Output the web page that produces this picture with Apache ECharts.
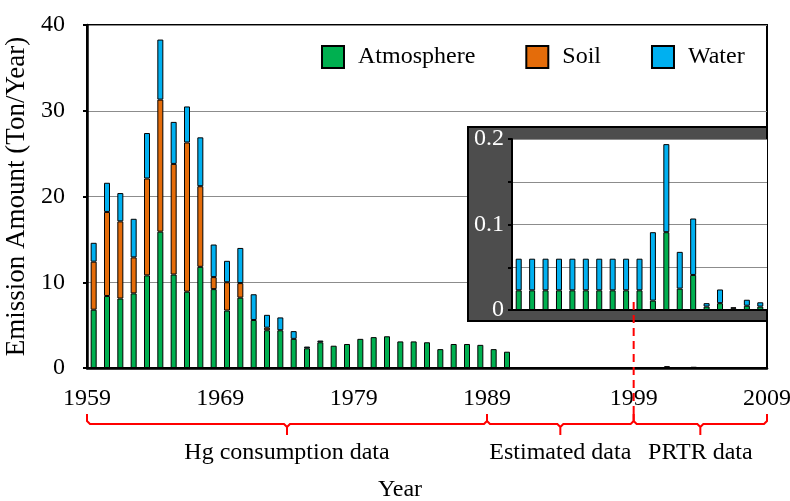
<!DOCTYPE html>
<html>
<head>
<meta charset="utf-8">
<title>Hg emission</title>
<script src="https://cdn.jsdelivr.net/npm/echarts@6/dist/echarts.min.js"></script>
</head>
<body style="margin:0">
<div id="main" style="width:790px;height:501px;"></div>
<script>
// data (Ton/Year)
const years = ['1959','1960','1961','1962','1963','1964','1965','1966','1967','1968',
  '1969','1970','1971','1972','1973','1974','1975','1976','1977','1978',
  '1979','1980','1981','1982','1983','1984','1985','1986','1987','1988',
  '1989','1990','1991','1992','1993','1994','1995','1996','1997','1998',
  '1999','2000','2001','2002','2003','2004','2005','2006','2007','2008','2009'];
const atmosphere = [6.8, 8.4, 8.1, 8.7, 10.8, 15.9, 10.9, 8.9, 11.8, 9.2,
  6.7, 8.2, 5.6, 4.4, 4.4, 3.4, 2.3, 3.0, 2.6, 2.8,
  3.4, 3.6, 3.7, 3.1, 3.1, 3.0, 2.2, 2.8, 2.8, 2.7,
  2.2, 1.9, 0.023, 0.023, 0.023, 0.023, 0.023, 0.023, 0.023, 0.023,
  0.023, 0.023, 0.011, 0.091, 0.025, 0.041, 0.004, 0.008, 0.002, 0.005, 0.004];
const soil = [5.6, 9.8, 9.0, 4.2, 11.3, 15.4, 12.9, 17.4, 9.4, 1.4,
  3.3, 1.7, 0, 0.3, 0, 0, 0, 0, 0, 0,
  0, 0, 0, 0, 0, 0, 0, 0, 0, 0,
  0, 0, 0, 0, 0, 0, 0, 0, 0, 0,
  0, 0, 0, 0, 0, 0, 0, 0, 0, 0, 0];
const water = [2.2, 3.4, 3.3, 4.5, 5.3, 7.0, 4.9, 4.2, 5.7, 3.8,
  2.5, 4.1, 3.0, 1.5, 1.5, 0.9, 0.2, 0.2, 0, 0,
  0, 0, 0, 0, 0, 0, 0, 0, 0, 0,
  0, 0, 0.037, 0.037, 0.037, 0.037, 0.037, 0.037, 0.037, 0.037,
  0.037, 0.037, 0.080, 0.103, 0.043, 0.066, 0.004, 0.016, 0.001, 0.007, 0.005];
const tickYears = ['1959', '1969', '1979', '1989', '1999', '2009'];
const periods = ['Hg consumption data', 'Estimated data', 'PRTR data'];

const insetFrom = years.indexOf('1991');
const font = 'Liberation Serif';
const colors = { Atmosphere: '#00b050', Soil: '#e46c0a', Water: '#00b0f0' };
// label slots on the bottom axis, counted in category widths from 1959
const labelSlots = [0, 10, 20, 30, 41, 51];
const insetGrid = { left: 512, right: 23, top: 139, bottom: 191 };

const chart = echarts.init(document.getElementById('main'));

function bars(name, data, xi, yi, z) {
  return {
    name: name, type: 'bar', stack: 's' + xi,
    xAxisIndex: xi, yAxisIndex: yi, z: z,
    barWidth: 6,
    data: data.map(v => v === 0 ? '-' : v),
    itemStyle: { color: colors[name], borderColor: '#000', borderWidth: 1 }
  };
}

chart.setOption({
  animation: false,
  textStyle: { fontFamily: font, color: '#000' },
  legend: {
    data: ['Atmosphere', 'Soil', 'Water'],
    left: 316, top: 40, icon: 'rect',
    itemWidth: 22, itemHeight: 22, itemGap: 50,
    textStyle: { fontFamily: font, fontSize: 24, color: '#000', padding: [0, 0, 0, 9] }
  },
  grid: [
    { left: 87, right: 23, top: 25, bottom: 133, outerBoundsMode: 'none',
      show: true, borderColor: '#000', borderWidth: 2 },
    { left: insetGrid.left, right: insetGrid.right, top: insetGrid.top, bottom: insetGrid.bottom,
      outerBoundsMode: 'none', show: true, backgroundColor: '#fff', borderWidth: 0, z: 6 }
  ],
  xAxis: [
    {
      type: 'category', gridIndex: 0, data: years,
      axisLine: { lineStyle: { color: '#000', width: 2.5 } },
      axisTick: { interval: 0, length: 4, lineStyle: { color: '#000', width: 2 } },
      axisLabel: { show: false },
      name: 'Year', nameLocation: 'middle', nameGap: 110,
      nameTextStyle: { fontFamily: font, fontSize: 24, color: '#000', padding: [0, 54, 0, 0] }
    },
    {
      type: 'value', gridIndex: 0, min: 0, max: years.length, position: 'bottom',
      axisLine: { show: false }, axisTick: { show: false }, splitLine: { show: false },
      axisLabel: {
        customValues: labelSlots, margin: 19,
        fontFamily: font, fontSize: 24, color: '#000',
        formatter: v => {
          const i = labelSlots.findIndex(s => Math.abs(s - v) < 1e-6);
          return i < 0 ? '' : tickYears[i];
        }
      }
    },
    {
      type: 'category', gridIndex: 1, data: years.slice(insetFrom), z: 10,
      axisLine: { lineStyle: { color: '#000', width: 2 } },
      axisTick: { interval: 0, length: 4, lineStyle: { color: '#000', width: 2 } },
      axisLabel: { show: false }
    }
  ],
  yAxis: [
    {
      type: 'value', gridIndex: 0, min: 0, max: 40, interval: 10,
      name: 'Emission Amount (Ton/Year)', nameLocation: 'middle', nameGap: 46,
      nameTextStyle: { fontFamily: font, fontSize: 27, color: '#000' },
      axisLine: { show: true, lineStyle: { color: '#000', width: 2.5 } },
      axisTick: { show: true, length: 4, lineStyle: { color: '#000', width: 2 } },
      axisLabel: { margin: 22, fontFamily: font, fontSize: 24, color: '#000' },
      splitLine: { lineStyle: { color: '#8c8c8c', width: 1 } }
    },
    {
      type: 'value', gridIndex: 1, min: 0, max: 0.2, interval: 0.05, z: 10,
      axisLine: { show: true, lineStyle: { color: '#000', width: 2 } },
      axisTick: { show: true, length: 4, lineStyle: { color: '#000', width: 2 } },
      axisLabel: {
        margin: 8, fontFamily: font, fontSize: 24, color: '#fff',
        formatter: v => Math.abs(v * 10 - Math.round(v * 10)) < 1e-6 ? String(+v.toFixed(1)) : ''
      },
      splitLine: { lineStyle: { color: '#8c8c8c', width: 1 } }
    }
  ],
  series: [
    bars('Atmosphere', atmosphere, 0, 0, 2),
    bars('Soil', soil, 0, 0, 2),
    bars('Water', water, 0, 0, 2),
    bars('Atmosphere', atmosphere.slice(insetFrom), 2, 1, 11),
    bars('Soil', soil.slice(insetFrom), 2, 1, 11),
    bars('Water', water.slice(insetFrom), 2, 1, 11)
  ]
});

// inset frame, period brackets and divider
const px = v => chart.convertToPixel({ xAxisIndex: 1 }, v);
const base = chart.convertToPixel({ yAxisIndex: 0 }, 0);
const W = 790, H = 501;
const ix = insetGrid.left - 44, iy = insetGrid.top - 12;
const iBottom = H - insetGrid.bottom;
const graphics = [{
  type: 'rect', z: 5,
  shape: { x: ix, y: iy, width: W - insetGrid.right - ix, height: iBottom + 11 - iy },
  style: { fill: '#4d4d4d', stroke: '#000', lineWidth: 2 }
}];
const cuts = [0, 30, 41, 51];
for (let i = 0; i < periods.length; i++) {
  const a = px(cuts[i]), b = px(cuts[i + 1]), m = (a + b) / 2;
  graphics.push({
    type: 'polyline', z: 20,
    shape: { points: [[a, base + 46], [a, base + 53], [a + 3, base + 56], [m - 3, base + 56],
      [m, base + 59], [m, base + 67], [m, base + 59], [m + 3, base + 56],
      [b - 3, base + 56], [b, base + 53], [b, base + 46]] },
    style: { stroke: '#ff0000', lineWidth: 2, fill: null }
  });
  graphics.push({
    type: 'text', z: 20, x: m, y: base + 85,
    style: { text: periods[i], fontFamily: font, fontSize: 24, fill: '#000',
      align: 'center', verticalAlign: 'middle' }
  });
}
graphics.push({
  type: 'line', z: 20,
  shape: { x1: px(41), y1: iBottom - 8, x2: px(41), y2: base + 46 },
  style: { stroke: '#ff0000', lineWidth: 2, lineDash: [8, 5] }
});
chart.setOption({ graphic: graphics });
</script>
</body>
</html>
